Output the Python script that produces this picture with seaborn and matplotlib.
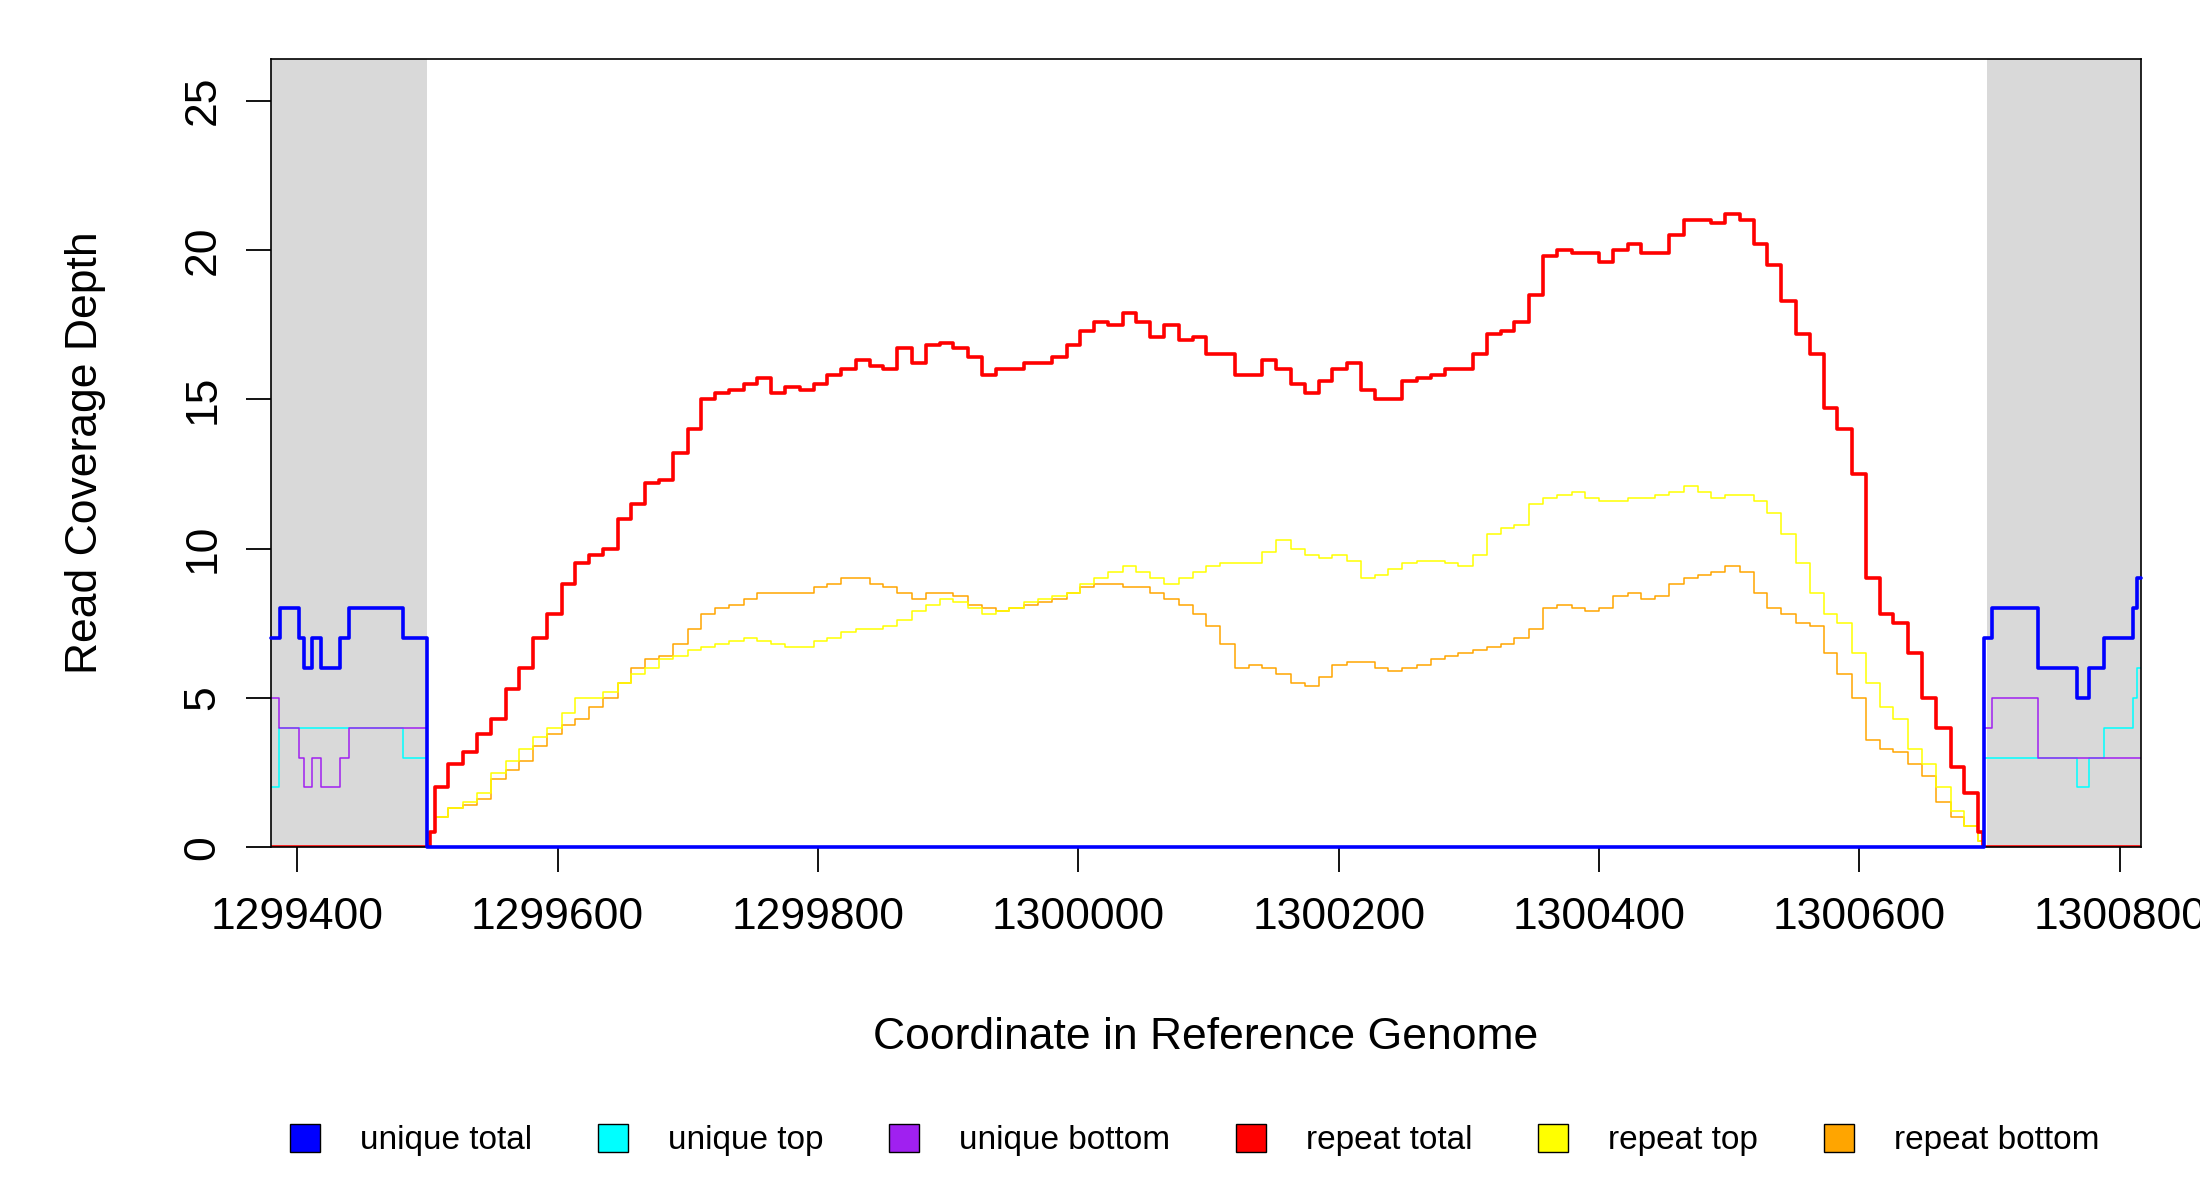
import numpy as np
import pandas as pd
import matplotlib
matplotlib.use("Agg")
import matplotlib.pyplot as plt
from matplotlib.patches import Patch
import seaborn as sns

repeat_pos = [1299506, 1299516, 1299527, 1299538, 1299549, 1299560, 1299570, 1299581, 1299592, 1299603,
              1299613, 1299624, 1299635, 1299646, 1299656, 1299667, 1299678, 1299689, 1299700, 1299710,
              1299721, 1299732, 1299743, 1299753, 1299764, 1299775, 1299786, 1299797, 1299807, 1299818,
              1299829, 1299840, 1299850, 1299861, 1299872, 1299883, 1299894, 1299904, 1299915, 1299926,
              1299937, 1299947, 1299958, 1299969, 1299980, 1299991, 1300001, 1300012, 1300023, 1300034,
              1300044, 1300055, 1300066, 1300077, 1300088, 1300098, 1300109, 1300120, 1300131, 1300141,
              1300152, 1300163, 1300174, 1300185, 1300195, 1300206, 1300217, 1300228, 1300238, 1300249,
              1300260, 1300271, 1300282, 1300292, 1300303, 1300314, 1300325, 1300335, 1300346, 1300357,
              1300368, 1300379, 1300389, 1300400, 1300411, 1300422, 1300432, 1300443, 1300454, 1300465,
              1300476, 1300486, 1300497, 1300508, 1300519, 1300529, 1300540, 1300551, 1300562, 1300573,
              1300583, 1300594, 1300605, 1300616, 1300626, 1300637, 1300648, 1300659, 1300670, 1300680,
              1300691]

repeat_total = [2.0, 2.8, 3.2, 3.8, 4.3, 5.3, 6.0, 7.0, 7.8, 8.8, 9.5, 9.8, 10.0, 11.0, 11.5, 12.2, 12.3,
                13.2, 14.0, 15.0, 15.2, 15.3, 15.5, 15.7, 15.2, 15.4, 15.3, 15.5, 15.8, 16.0, 16.3, 16.1,
                16.0, 16.7, 16.2, 16.8, 16.9, 16.7, 16.4, 15.8, 16.0, 16.0, 16.2, 16.2, 16.4, 16.8, 17.3,
                17.6, 17.5, 17.9, 17.6, 17.1, 17.5, 17.0, 17.1, 16.5, 16.5, 15.8, 15.8, 16.3, 16.0, 15.5,
                15.2, 15.6, 16.0, 16.2, 15.3, 15.0, 15.0, 15.6, 15.7, 15.8, 16.0, 16.0, 16.5, 17.2, 17.3,
                17.6, 18.5, 19.8, 20.0, 19.9, 19.9, 19.6, 20.0, 20.2, 19.9, 19.9, 20.5, 21.0, 21.0, 20.9,
                21.2, 21.0, 20.2, 19.5, 18.3, 17.2, 16.5, 14.7, 14.0, 12.5, 9.0, 7.8, 7.5, 6.5, 5.0, 4.0,
                2.7, 1.8, 0.5]

repeat_top = [1.0, 1.3, 1.5, 1.8, 2.5, 2.9, 3.3, 3.7, 4.0, 4.5, 5.0, 5.0, 5.2, 5.5, 5.8, 6.0, 6.3, 6.4,
              6.6, 6.7, 6.8, 6.9, 7.0, 6.9, 6.8, 6.7, 6.7, 6.9, 7.0, 7.2, 7.3, 7.3, 7.4, 7.6, 7.9, 8.1,
              8.3, 8.2, 8.0, 7.8, 7.9, 8.0, 8.2, 8.3, 8.4, 8.5, 8.8, 9.0, 9.2, 9.4, 9.2, 9.0, 8.8, 9.0,
              9.2, 9.4, 9.5, 9.5, 9.5, 9.9, 10.3, 10.0, 9.8, 9.7, 9.8, 9.6, 9.0, 9.1, 9.3, 9.5, 9.6, 9.6,
              9.5, 9.4, 9.8, 10.5, 10.7, 10.8, 11.5, 11.7, 11.8, 11.9, 11.7, 11.6, 11.6, 11.7, 11.7, 11.8,
              11.9, 12.1, 11.9, 11.7, 11.8, 11.8, 11.6, 11.2, 10.5, 9.5, 8.5, 7.8, 7.5, 6.5, 5.5, 4.7,
              4.3, 3.3, 2.8, 2.0, 1.2, 0.7, 0.2]

repeat_bottom = [1.0, 1.3, 1.4, 1.6, 2.3, 2.6, 2.9, 3.4, 3.8, 4.1, 4.3, 4.7, 5.0, 5.5, 6.0, 6.3, 6.4, 6.8,
                 7.3, 7.8, 8.0, 8.1, 8.3, 8.5, 8.5, 8.5, 8.5, 8.7, 8.8, 9.0, 9.0, 8.8, 8.7, 8.5, 8.3, 8.5,
                 8.5, 8.4, 8.1, 8.0, 7.9, 8.0, 8.1, 8.2, 8.3, 8.5, 8.7, 8.8, 8.8, 8.7, 8.7, 8.5, 8.3, 8.1,
                 7.8, 7.4, 6.8, 6.0, 6.1, 6.0, 5.8, 5.5, 5.4, 5.7, 6.1, 6.2, 6.2, 6.0, 5.9, 6.0, 6.1, 6.3,
                 6.4, 6.5, 6.6, 6.7, 6.8, 7.0, 7.3, 8.0, 8.1, 8.0, 7.9, 8.0, 8.4, 8.5, 8.3, 8.4, 8.8, 9.0,
                 9.1, 9.2, 9.4, 9.2, 8.5, 8.0, 7.8, 7.5, 7.4, 6.5, 5.8, 5.0, 3.6, 3.3, 3.2, 2.8, 2.4, 1.5,
                 1.0, 0.7, 0.2]

# unique coverage: step breakpoints (value holds until next breakpoint)
unique_pos = [1299380, 1299386, 1299387, 1299401, 1299405, 1299411, 1299418, 1299433, 1299440, 1299481,
              1299500, 1300696, 1300702, 1300737, 1300767, 1300776, 1300788, 1300810, 1300813, 1300816]
unique_total = [7, 7, 8, 7, 6, 7, 6, 7, 8, 7, 0, 7, 8, 6, 5, 6, 7, 8, 9, 9]
unique_top = [2, 4, 4, 4, 4, 4, 4, 4, 4, 3, 0, 3, 3, 3, 2, 3, 4, 5, 6, 6]
unique_bottom = [5, 4, 4, 3, 2, 3, 2, 3, 4, 4, 0, 4, 5, 3, 3, 3, 3, 3, 3, 3]

flank_left = (1299380, 1299500)
flank_right = (1300698, 1300816)
x_ticks = [1299400, 1299600, 1299800, 1300000, 1300200, 1300400, 1300600, 1300800]

sns.set_style("white")
plt.rcParams['font.family'] = ['Liberation Sans', 'DejaVu Sans']
plt.rcParams['text.color'] = 'black'
plt.rcParams['axes.labelcolor'] = 'black'

# repeat series: zero inside flanks, then the read values
rep_x = [1299380, 1299500, 1299502] + repeat_pos + [1300695, 1300816]
def pad(v):
    return [0, 0, 0.5] + v + [0, 0]

rep = pd.DataFrame({'pos': rep_x, 'total': pad(repeat_total),
                    'top': pad(repeat_top), 'bottom': pad(repeat_bottom)})
uni = pd.DataFrame({'pos': unique_pos, 'total': unique_total,
                    'top': unique_top, 'bottom': unique_bottom})

fig = plt.figure(figsize=(22, 12), dpi=100)
ax = fig.add_axes([0.123, 0.294, 0.850, 0.657])
ax.axvspan(*flank_left, color='#d9d9d9', lw=0)
ax.axvspan(*flank_right, color='#d9d9d9', lw=0)

kw = dict(estimator=None, sort=False, drawstyle='steps-post', ax=ax, legend=False)
sns.lineplot(data=rep, x='pos', y='bottom', color='orange', lw=1.1, **kw)
sns.lineplot(data=rep, x='pos', y='top', color='yellow', lw=1.1, **kw)
sns.lineplot(data=rep, x='pos', y='total', color='red', lw=2.6, **kw)
sns.lineplot(data=uni, x='pos', y='top', color='cyan', lw=1.1, **kw)
sns.lineplot(data=uni, x='pos', y='bottom', color='#a020f0', lw=1.1, **kw)
sns.lineplot(data=uni, x='pos', y='total', color='blue', lw=2.6, clip_on=False, zorder=5, **kw)

ax.set_xlim(1299379.5, 1300816)
ax.set_ylim(0, 26.4)
ax.set_xticks(x_ticks)
ax.set_xticklabels([str(t) for t in x_ticks])
ax.set_yticks([0, 5, 10, 15, 20, 25])
ax.set_yticklabels(['0', '5', '10', '15', '20', '25'], rotation=90, va='center')
ax.tick_params(axis='both', direction='out', length=18, width=1.3, labelsize=32,
               bottom=True, left=True, colors='black')
ax.tick_params(axis='x', pad=18)
ax.tick_params(axis='y', pad=16)
for s in ax.spines.values():
    s.set_color('black')
    s.set_linewidth(1.2)
ax.set_xlabel('Coordinate in Reference Genome', fontsize=32)
ax.set_ylabel('Read Coverage Depth', fontsize=32)
ax.xaxis.set_label_coords(0.5, -0.215)
ax.yaxis.set_label_coords(-0.088, 0.5)

names = ['unique total', 'unique top', 'unique bottom', 'repeat total', 'repeat top', 'repeat bottom']
cols = ['blue', 'cyan', '#a020f0', 'red', 'yellow', 'orange']
handles = [Patch(facecolor=c, edgecolor='black', lw=1) for c in cols]
fig.legend(handles, names, ncol=6, loc='center left', bbox_to_anchor=(0.118, 0.05, 0.85, 0.0),
           mode='expand', frameon=False, fontsize=24, handlelength=0.9, handleheight=0.9,
           handletextpad=1.2)

fig.savefig('out.png', dpi=100)
